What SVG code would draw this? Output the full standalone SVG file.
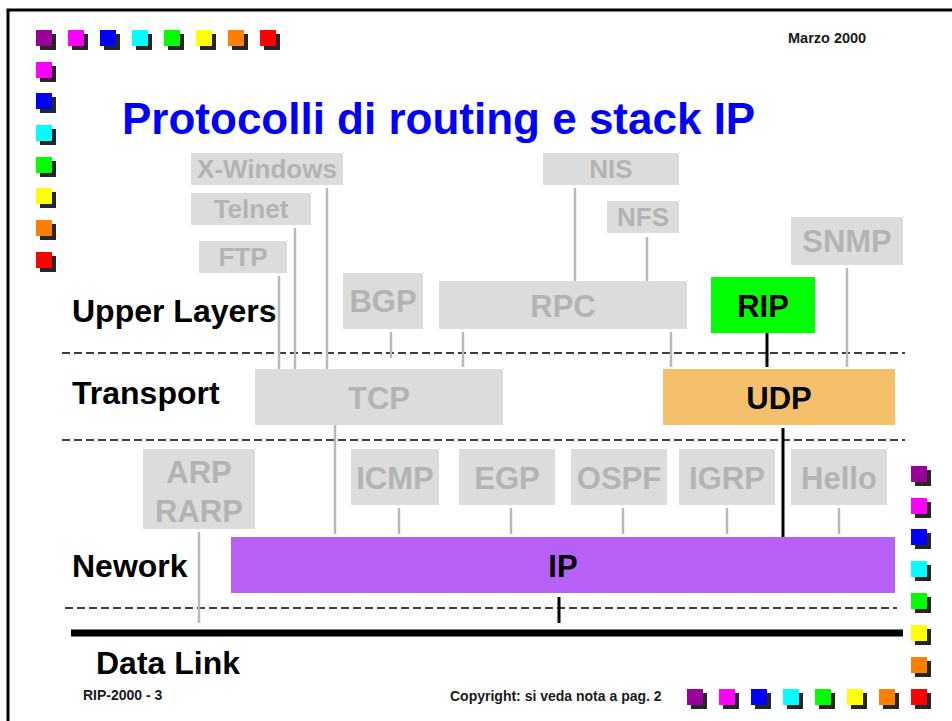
<svg xmlns="http://www.w3.org/2000/svg" xmlns:xlink="http://www.w3.org/1999/xlink" width="952" height="721" viewBox="0 0 952 721">
<style>
text{font-family:"Liberation Sans",Arial,sans-serif;font-weight:bold}
.gbox{fill:#DCDCDC}
.gt{fill:#B3B3B3;font-size:31px;text-anchor:middle}
.gs{fill:#B3B3B3;font-size:26px;text-anchor:middle}
.bt{fill:#000;font-size:31px;text-anchor:middle}
.lab{fill:#000;font-size:32px}
.foot{fill:#1a1a1a;font-size:14px}
.gl{stroke:#B8B8B8;stroke-width:2.5;fill:none}
.bl{stroke:#000;stroke-width:3;fill:none}
.dash{stroke:#000;stroke-width:1.5;stroke-dasharray:8 4;fill:none}
.sh{fill:#262626}
</style>
<defs>
<rect id="s" width="16" height="16"/>
<g id="shd"><rect class="sh" x="4" y="4" width="16" height="16"/></g>
</defs>
<rect x="0" y="0" width="952" height="721" fill="#fff"/>
<rect x="8" y="10" width="960" height="730" fill="none" stroke="#000" stroke-width="3"/>

<g id="decor">
<g transform="translate(36,30)"><use href="#shd"/><use href="#s" fill="#990099"/></g>
<g transform="translate(68,30)"><use href="#shd"/><use href="#s" fill="#FF00FF"/></g>
<g transform="translate(100,30)"><use href="#shd"/><use href="#s" fill="#0000FF"/></g>
<g transform="translate(132,30)"><use href="#shd"/><use href="#s" fill="#00FFFF"/></g>
<g transform="translate(164,30)"><use href="#shd"/><use href="#s" fill="#00FF00"/></g>
<g transform="translate(196,30)"><use href="#shd"/><use href="#s" fill="#FFFF00"/></g>
<g transform="translate(228,30)"><use href="#shd"/><use href="#s" fill="#FF8000"/></g>
<g transform="translate(260,30)"><use href="#shd"/><use href="#s" fill="#FF0000"/></g>
<g transform="translate(36,62)"><use href="#shd"/><use href="#s" fill="#FF00FF"/></g>
<g transform="translate(36,93)"><use href="#shd"/><use href="#s" fill="#0000FF"/></g>
<g transform="translate(36,125)"><use href="#shd"/><use href="#s" fill="#00FFFF"/></g>
<g transform="translate(36,157)"><use href="#shd"/><use href="#s" fill="#00FF00"/></g>
<g transform="translate(36,188)"><use href="#shd"/><use href="#s" fill="#FFFF00"/></g>
<g transform="translate(36,220)"><use href="#shd"/><use href="#s" fill="#FF8000"/></g>
<g transform="translate(36,252)"><use href="#shd"/><use href="#s" fill="#FF0000"/></g>
<g transform="translate(911,466)"><use href="#shd"/><use href="#s" fill="#990099"/></g>
<g transform="translate(911,498)"><use href="#shd"/><use href="#s" fill="#FF00FF"/></g>
<g transform="translate(911,529)"><use href="#shd"/><use href="#s" fill="#0000FF"/></g>
<g transform="translate(911,561)"><use href="#shd"/><use href="#s" fill="#00FFFF"/></g>
<g transform="translate(911,593)"><use href="#shd"/><use href="#s" fill="#00FF00"/></g>
<g transform="translate(911,625)"><use href="#shd"/><use href="#s" fill="#FFFF00"/></g>
<g transform="translate(911,657)"><use href="#shd"/><use href="#s" fill="#FF8000"/></g>
<g transform="translate(687,689)"><use href="#shd"/><use href="#s" fill="#990099"/></g>
<g transform="translate(719,689)"><use href="#shd"/><use href="#s" fill="#FF00FF"/></g>
<g transform="translate(751,689)"><use href="#shd"/><use href="#s" fill="#0000FF"/></g>
<g transform="translate(783,689)"><use href="#shd"/><use href="#s" fill="#00FFFF"/></g>
<g transform="translate(815,689)"><use href="#shd"/><use href="#s" fill="#00FF00"/></g>
<g transform="translate(847,689)"><use href="#shd"/><use href="#s" fill="#FFFF00"/></g>
<g transform="translate(879,689)"><use href="#shd"/><use href="#s" fill="#FF8000"/></g>
<g transform="translate(911,689)"><use href="#shd"/><use href="#s" fill="#FF0000"/></g>
</g>

<text x="788" y="43" style="font-size:14.5px" fill="#1a1a1a">Marzo 2000</text>
<text x="122" y="134" style="font-size:44px" fill="#0000FF">Protocolli di routing e stack IP</text>

<g id="labels">
<text class="lab" x="72" y="322">Upper Layers</text>
<text class="lab" x="72" y="404">Transport</text>
<text class="lab" x="72" y="577">Nework</text>
<text class="lab" x="96" y="674">Data Link</text>
</g>

<g id="layers">
<line class="dash" x1="62" y1="353" x2="905" y2="353"/>
<line class="dash" x1="62" y1="440" x2="905" y2="440"/>
<line class="dash" x1="65" y1="608" x2="897" y2="608"/>
<line x1="71" y1="633" x2="903" y2="633" stroke="#000" stroke-width="7"/>
</g>

<g id="connectors">
<line class="gl" x1="279" y1="276" x2="279" y2="369"/>
<line class="gl" x1="295" y1="228" x2="295" y2="369"/>
<line class="gl" x1="327" y1="188" x2="327" y2="369"/>
<line class="gl" x1="391" y1="332" x2="391" y2="358"/>
<line class="gl" x1="463" y1="332" x2="463" y2="367"/>
<line class="gl" x1="575" y1="188" x2="575" y2="281"/>
<line class="gl" x1="647" y1="237" x2="647" y2="281"/>
<line class="gl" x1="671" y1="332" x2="671" y2="367"/>
<line class="gl" x1="847" y1="268" x2="847" y2="367"/>
<line class="bl" x1="767" y1="333" x2="767" y2="367"/>
<line class="gl" x1="335" y1="425" x2="335" y2="534"/>
<line class="bl" x1="783" y1="428" x2="783" y2="537"/>
<line class="gl" x1="399" y1="508" x2="399" y2="534"/>
<line class="gl" x1="511" y1="508" x2="511" y2="534"/>
<line class="gl" x1="623" y1="508" x2="623" y2="534"/>
<line class="gl" x1="727" y1="508" x2="727" y2="534"/>
<line class="gl" x1="839" y1="508" x2="839" y2="534"/>
<line class="gl" x1="199" y1="532" x2="199" y2="623"/>
<line class="bl" x1="559" y1="597" x2="559" y2="623" stroke-width="2.5"/>
</g>

<g id="xwindows"><rect class="gbox" x="191" y="153" width="152" height="32"/><text class="gs" x="267" y="178">X-Windows</text></g>
<g id="telnet"><rect class="gbox" x="191" y="193" width="120" height="32"/><text class="gs" x="251" y="218">Telnet</text></g>
<g id="ftp"><rect class="gbox" x="199" y="241" width="88" height="32"/><text class="gs" x="243" y="266">FTP</text></g>
<g id="bgp"><rect class="gbox" x="343" y="273" width="80" height="56"/><text class="gt" x="383" y="312">BGP</text></g>
<g id="nis"><rect class="gbox" x="543" y="153" width="136" height="32"/><text class="gs" x="611" y="178">NIS</text></g>
<g id="nfs"><rect class="gbox" x="607" y="201" width="72" height="32"/><text class="gs" x="643" y="226">NFS</text></g>
<g id="rpc"><rect class="gbox" x="439" y="281" width="248" height="48"/><text class="gt" x="563" y="317">RPC</text></g>
<g id="rip"><rect x="711" y="277" width="104" height="56" fill="#00FF00"/><text class="bt" x="763" y="317">RIP</text></g>
<g id="snmp"><rect class="gbox" x="791" y="217" width="112" height="48"/><text class="gt" x="847" y="252">SNMP</text></g>
<g id="tcp"><rect class="gbox" x="255" y="369" width="248" height="56"/><text class="gt" x="379" y="409">TCP</text></g>
<g id="udp"><rect x="663" y="369" width="232" height="56" fill="#F5C06B"/><text class="bt" x="779" y="409">UDP</text></g>
<g id="arp"><rect class="gbox" x="143" y="449" width="112" height="80"/><text class="gt" x="199" y="483">ARP</text><text class="gt" x="199" y="522">RARP</text></g>
<g id="icmp"><rect class="gbox" x="351" y="449" width="88" height="56"/><text class="gt" x="395" y="489">ICMP</text></g>
<g id="egp"><rect class="gbox" x="459" y="449" width="96" height="56"/><text class="gt" x="507" y="489">EGP</text></g>
<g id="ospf"><rect class="gbox" x="571" y="449" width="96" height="56"/><text class="gt" x="619" y="489">OSPF</text></g>
<g id="igrp"><rect class="gbox" x="679" y="449" width="96" height="56"/><text class="gt" x="727" y="489">IGRP</text></g>
<g id="hello"><rect class="gbox" x="791" y="449" width="96" height="56"/><text class="gt" x="839" y="489">Hello</text></g>
<g id="ip"><rect x="231" y="537" width="664" height="56" fill="#B760F5"/><text class="bt" x="563" y="577">IP</text></g>

<text class="foot" x="83" y="700">RIP-2000 - 3</text>
<text class="foot" x="450" y="701">Copyright: si veda nota a pag. 2</text>
</svg>
